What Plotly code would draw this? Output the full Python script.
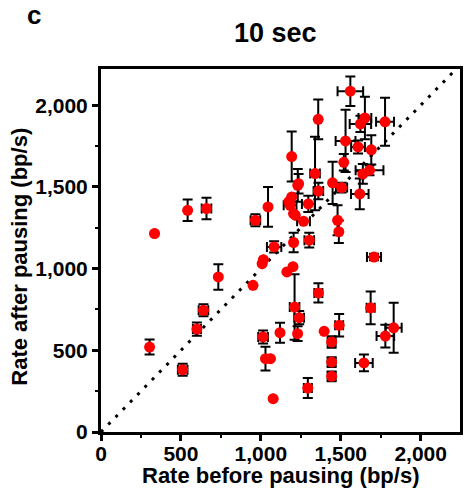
import plotly.graph_objects as go

# Rate before pausing (bp/s)
rate_before = [304, 511, 600, 641, 734, 335, 542, 660, 951, 1008,
               1016, 966, 1045, 1083, 1014, 1029, 1060, 1077, 1120, 1163,
               1201, 1205, 1303, 1211, 1240, 1230, 1294, 1360, 1396, 1443,
               1443, 1443, 1490, 1645, 1687, 1708, 1779, 1831, 1193, 1339,
               1231, 1360, 1449, 1193, 1297, 1183, 1215, 1267, 1480, 1488,
               1505, 1519, 1530, 1608, 1691, 1638, 1680, 1619, 1560, 1359,
               1651, 1623, 1777, 1236, 1205, 1175]
# Rate after pausing (bp/s)
rate_after = [520, 381, 630, 745, 949, 1215, 1357, 1368, 898, 1030,
              1055, 1296, 1378, 1133, 582, 449, 449, 204, 608, 980,
              1012, 1160, 1174, 765, 700, 602, 269, 851, 616, 551,
              428, 341, 653, 423, 760, 1071, 587, 638, 1686, 1582,
              1510, 1475, 1525, 1439, 1396, 1388, 1327, 1290, 1296, 1226,
              1496, 1651, 1782, 1745, 1727, 1580, 1602, 1457, 2086, 1914,
              1922, 1886, 1899, 1520, 1337, 1410]
# Error (SEM) of rate before pausing
err_before = [0, 30, 25, 30, 0, 0, 0, 30, 0, 0,
              0, 30, 0, 45, 30, 0, 0, 0, 0, 0,
              0, 0, 30, 30, 30, 0, 25, 25, 0, 25,
              25, 25, 25, 55, 25, 44, 55, 50, 0, 30,
              0, 30, 0, 0, 40, 40, 0, 40, 0, 0,
              35, 0, 62, 43, 0, 0, 87, 55, 80, 0,
              40, 67, 56, 0, 0, 0]
# Error (SEM) of rate after pausing
err_after = [46, 37, 41, 37, 78, 0, 66, 66, 0, 0,
             0, 37, 122, 35, 40, 73, 0, 0, 61, 0,
             0, 60, 45, 200, 40, 45, 61, 59, 0, 35,
             30, 30, 69, 51, 100, 20, 70, 153, 153, 225,
             100, 50, 130, 0, 50, 0, 0, 0, 92, 69,
             30, 50, 190, 40, 90, 60, 30, 94, 90, 122,
             130, 50, 147, 60, 0, 0]

diag = [0, 2200]
x_ticks = [0, 500, 1000, 1500, 2000]
x_tick_text = ["0", "500", "1,000", "1,500", "2,000"]
y_ticks = [0, 500, 1000, 1500, 2000]
y_tick_text = ["0", "500", "1,000", "1,500", "2,000"]

FONT = "Liberation Sans, Arial, Helvetica, sans-serif"

fig = go.Figure()
fig.add_trace(go.Scatter(
    x=diag, y=diag, mode="lines",
    line=dict(color="black", width=3, dash="3px,7.4px"),
    hoverinfo="skip", showlegend=False))
fig.add_trace(go.Scatter(
    x=rate_before, y=rate_after, mode="markers",
    marker=dict(color="#ff0000", size=11),
    error_x=dict(type="data", array=err_before, color="black", thickness=2, width=5),
    error_y=dict(type="data", array=err_after, color="black", thickness=2, width=5),
    showlegend=False))

axis_common = dict(
    showgrid=False, zeroline=False, showline=True, linecolor="black", linewidth=3,
    mirror=True, ticks="outside", ticklen=6, tickwidth=3, tickcolor="black",
    tickfont=dict(family=FONT, size=21, color="black", weight="bold"),
    minor=dict(dtick=250, ticks="outside", ticklen=3, tickwidth=2, tickcolor="black"),
)
fig.update_xaxes(range=[0, 2246], tickmode="array", tickvals=x_ticks, ticktext=x_tick_text,
                 ticklabelstandoff=-5, **axis_common)
fig.update_yaxes(range=[0, 2222], tickmode="array", tickvals=y_ticks, ticktext=y_tick_text,
                 **axis_common)

annos = [
    dict(text="c", x=33, y=31.5, size=26, rot=0, anchor="bottom"),
    dict(text="10 sec", x=277, y=50, size=27, rot=0, anchor="bottom"),
    dict(text="Rate before pausing (bp/s)", x=282, y=476, size=22, rot=0, anchor="middle"),
    dict(text="Rate after pausing (bp/s)", x=18, y=257, size=22, rot=-90, anchor="middle"),
]
L, T, W, H = 101, 69, 362, 363
for a in annos:
    fig.add_annotation(
        text=a["text"], xref="paper", yref="paper",
        x=(a["x"] - L) / W, y=(T + H - a["y"]) / H,
        xanchor="center", yanchor="middle" if a["rot"] else a["anchor"],
        textangle=a["rot"], showarrow=False,
        font=dict(family=FONT, size=a["size"], color="black", weight="bold"))

fig.update_layout(
    width=465, height=502,
    margin=dict(l=L, r=465 - L - W, t=T, b=502 - T - H),
    paper_bgcolor="white", plot_bgcolor="white",
)
fig.write_html("out.html")
